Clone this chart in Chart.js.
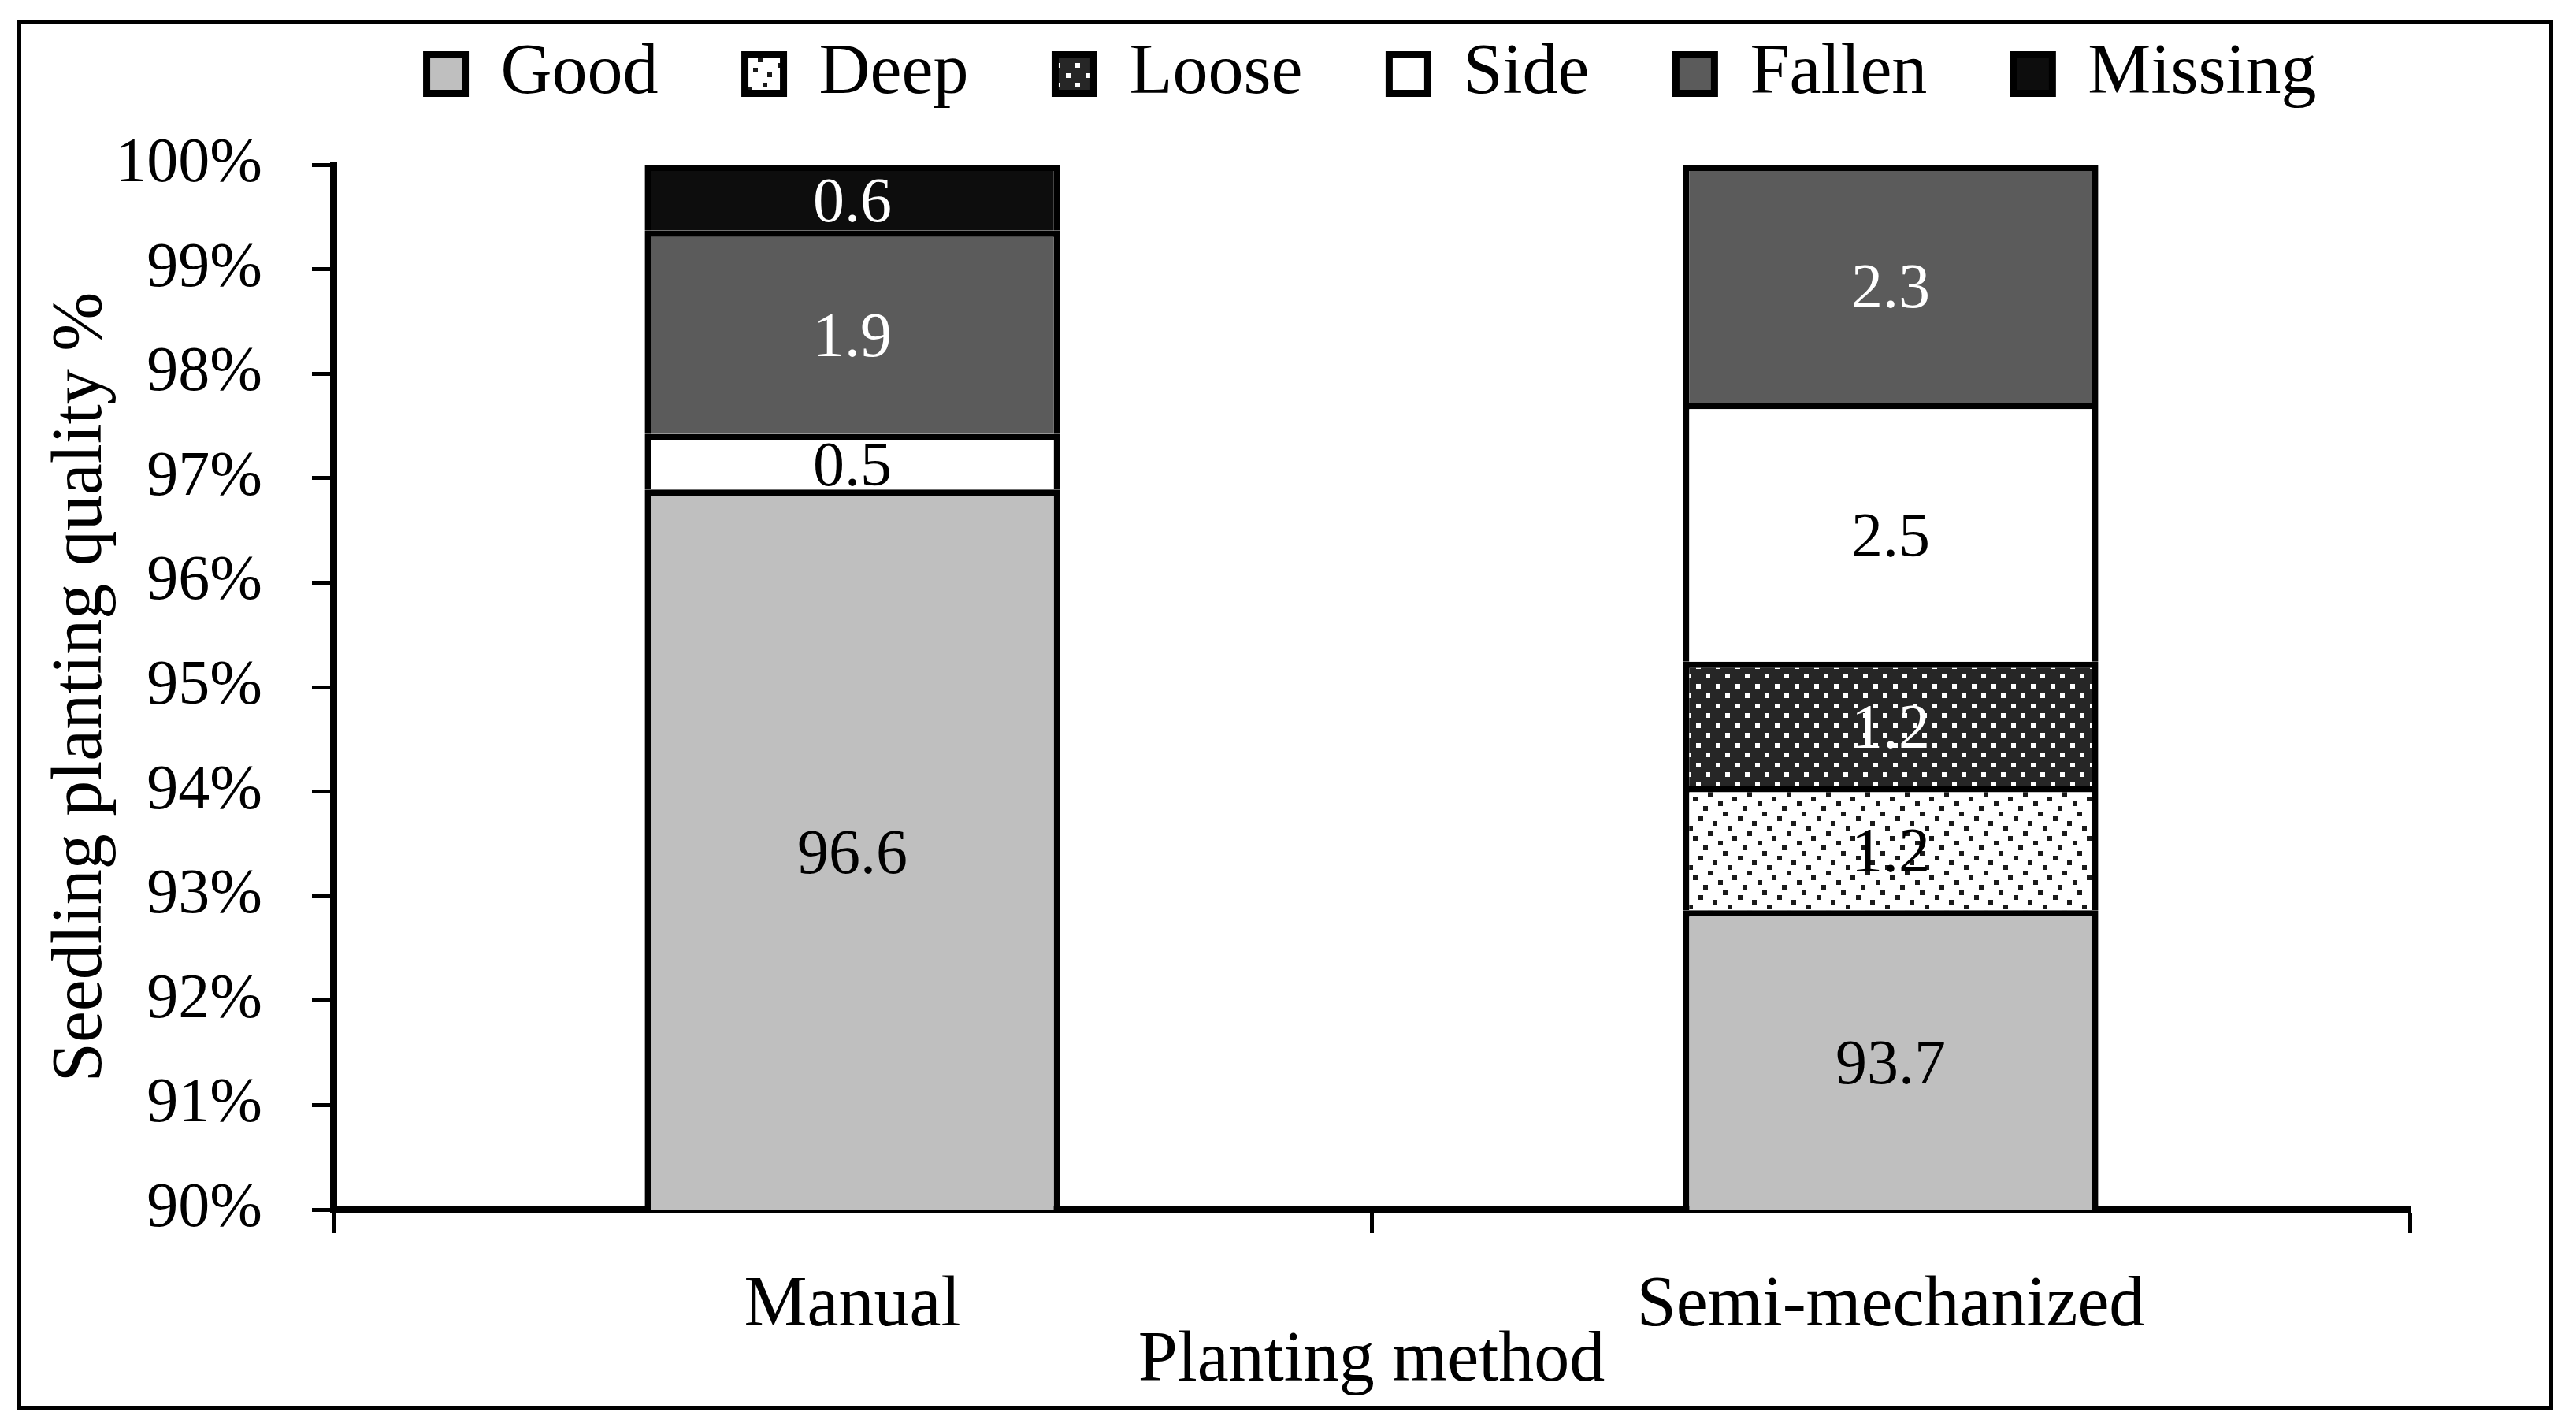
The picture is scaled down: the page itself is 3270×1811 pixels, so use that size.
<!DOCTYPE html>
<html><head><meta charset="utf-8">
<script src="https://cdn.jsdelivr.net/npm/chart.js@4.4.1/dist/chart.umd.min.js"></script>
<style>
html,body{margin:0;padding:0;background:#fff;overflow:hidden;}
#wrap{position:relative;width:3270px;height:1811px;}
#frame{position:absolute;left:22px;top:26px;width:3209px;height:1753px;border:5px solid #000;}
canvas{position:absolute;left:0;top:0;}
</style></head><body>
<div id="wrap"><div id="frame"></div><canvas id="c" width="3270" height="1811"></canvas></div>
<script>
// ---- data (labels show one decimal) ----
const categories = ['Manual', 'Semi-mechanized'];
const seriesNames = ['Good', 'Deep', 'Loose', 'Side', 'Fallen', 'Missing'];
const good    = [96.6, 93.7];
const deep    = [0,    1.2];
const loose   = [0,    1.2];
const side    = [0.53, 2.5];
const fallen  = [1.94, 2.3];
const missing = [0.63, 0];
const yTickValues = [90, 91, 92, 93, 94, 95, 96, 97, 98, 99, 100];

const FONT = '"Liberation Serif", "Times New Roman", serif';
Chart.defaults.font.family = FONT;
Chart.defaults.color = '#000';

const canvas = document.getElementById('c');
const ctx = canvas.getContext('2d');

function deepPattern() {
  const c = document.createElement('canvas'); c.width = 50; c.height = 50;
  const x = c.getContext('2d');
  x.fillStyle = '#fff'; x.fillRect(0, 0, 50, 50);
  x.fillStyle = '#1a1a1a';
  [[18,5],[49,11],[31,17],[12,23],[37,30],[6,36],[24,42],[43,48]].forEach(([a, b]) => {
    for (const dx of [0, -50]) for (const dy of [0, -50]) x.fillRect(a + dx, b + dy, 6, 6);
  });
  return ctx.createPattern(c, 'repeat');
}
function loosePattern() {
  const c = document.createElement('canvas'); c.width = 25; c.height = 25;
  const x = c.getContext('2d');
  x.fillStyle = '#262626'; x.fillRect(0, 0, 25, 25);
  x.fillStyle = '#ffffff';
  x.fillRect(15, 5, 6, 6); x.fillRect(3, 18, 6, 6);
  return ctx.createPattern(c, 'repeat');
}

const rawValues = [good, deep, loose, side, fallen, missing];
const totals = categories.map((_, j) => rawValues.reduce((s, arr) => s + arr[j], 0));
const toPercent = arr => arr.map((v, j) => v / totals[j] * 100);
const fills = ['#BFBFBF', deepPattern(), loosePattern(), '#FFFFFF', '#5B5B5B', '#0D0D0D'];
const labelColors = ['#000', '#000', '#fff', '#000', '#fff', '#fff'];

const segLabels = {
  id: 'segLabels',
  afterDatasetsDraw(chart) {
    const c = chart.ctx, area = chart.chartArea;
    c.save();
    c.font = '80px ' + FONT;
    c.textAlign = 'center';
    c.textBaseline = 'middle';
    chart.data.datasets.forEach((ds, i) => {
      const meta = chart.getDatasetMeta(i);
      meta.data.forEach((el, j) => {
        const raw = rawValues[i][j];
        if (!raw) return;
        const p = el.getProps(['x', 'y', 'base'], true);
        const top = Math.max(Math.min(p.y, p.base), area.top);
        const bot = Math.min(Math.max(p.y, p.base), area.bottom);
        c.fillStyle = labelColors[i];
        c.fillText(raw.toFixed(1), p.x, (top + bot) / 2 + 9);
      });
    });
    c.restore();
  }
};

new Chart(ctx, {
  type: 'bar',
  data: {
    labels: categories,
    datasets: seriesNames.map((name, i) => ({
      label: name,
      data: toPercent(rawValues[i]),
      backgroundColor: fills[i],
      borderColor: '#000',
      borderWidth: 8,
      borderSkipped: 'start',
      barPercentage: 0.4,
      categoryPercentage: 1,
      clip: 0
    }))
  },
  options: {
    responsive: false,
    animation: false,
    devicePixelRatio: 1,
    events: [],
    layout: { padding: { top: -61, left: 40, right: 211, bottom: 0 } },
    plugins: {
      tooltip: { enabled: false },
      legend: {
        position: 'top', fullSize: false, weight: 1000, align: 'center',
        labels: {
          color: '#000', font: { size: 90 }, boxWidth: 49, boxHeight: 49, padding: 110,
          generateLabels: chart => Chart.defaults.plugins.legend.labels.generateLabels(chart)
            .map(l => Object.assign(l, { lineWidth: 9, strokeStyle: '#000' }))
        }
      },
      title: {
        display: true, text: '', position: 'top', weight: 10, fullSize: false,
        padding: { top: 0, bottom: 59 }, font: { size: 1, lineHeight: 1 }
      }
    },
    scales: {
      x: {
        stacked: true, offset: true, z: 1,
        grid: { display: true, offset: true, drawOnChartArea: false, drawTicks: true,
                tickLength: 30, tickWidth: 5, tickColor: '#000', color: '#000' },
        border: { display: true, color: '#000', width: 9 },
        ticks: { color: '#000', font: { size: 90 }, padding: 39, maxRotation: 0, autoSkip: false },
        title: { display: true, text: 'Planting method', color: '#000', font: { size: 90 },
                 padding: { top: 0, bottom: 29 } },
        afterFit: s => { s.height = 276; }
      },
      y: {
        stacked: true, min: 90, max: 100, z: 1,
        afterBuildTicks: s => { s.ticks = yTickValues.map(v => ({ value: v })); },
        grid: { drawOnChartArea: false, drawTicks: true, tickLength: 27, tickWidth: 5, tickColor: '#000' },
        border: { display: true, color: '#000', width: 9 },
        ticks: { color: '#000', font: { size: 80 }, padding: 63, callback: v => v + '%' },
        title: { display: true, text: 'Seedling planting quality %', color: '#000', font: { size: 90 },
                 padding: { top: 10, bottom: 0 } },
        afterFit: s => { s.width = 383; }
      }
    }
  },
  plugins: [segLabels]
});
</script>
</body></html>
